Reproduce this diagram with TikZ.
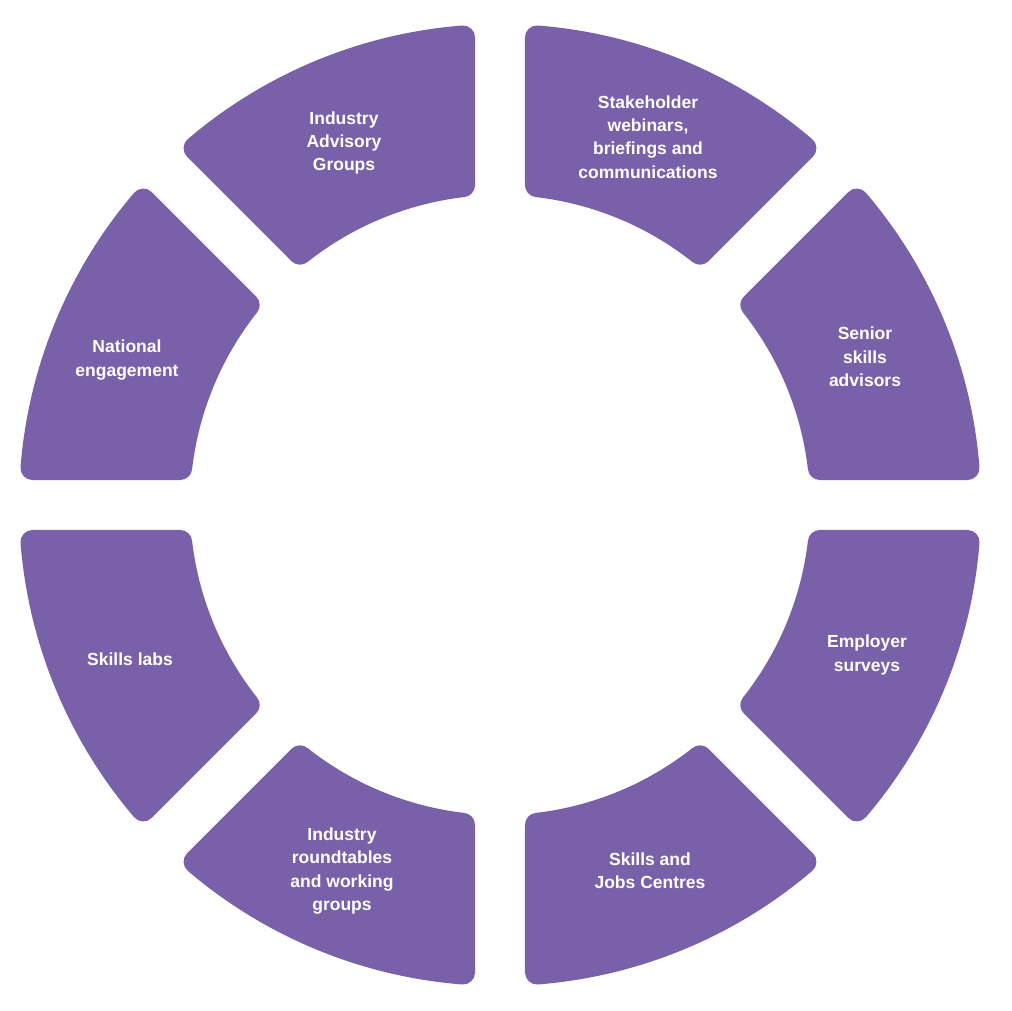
\documentclass[tikz,border=0pt]{standalone}
\usepackage{fontspec}
\setmainfont{Liberation Sans}
\definecolor{seg}{RGB}{120,97,168}
\begin{document}
\begin{tikzpicture}[x=1pt,y=1pt,
  segment/.style={fill=seg,draw=seg,line width=24pt,line join=round},
  lab/.style={text=white,font=\bfseries\fontsize{17.5}{23.3}\selectfont,align=center}]
\useasboundingbox (0,0) rectangle (1012,1010);
\foreach \k in {0,...,7}{
  \begin{scope}[shift={(500,505)},rotate=\k*45]
    \path[segment] (4.524:469pt) arc[start angle=4.524,end angle=40.476,radius=469pt]
      -- (38.402:322pt) arc[start angle=38.402,end angle=6.598,radius=322pt] -- cycle;
  \end{scope}
}
\node[lab] (iag) at (344,867) {Industry\\Advisory\\Groups};
\node[lab] (stk) at (648,873) {Stakeholder\\webinars,\\briefings and\\communications};
\node[lab] (ssa) at (865,653) {Senior\\skills\\advisors};
\node[lab] (nat) at (127,650) {National\\engagement};
\node[lab] (sl) at (130,351) {Skills labs};
\node[lab] (emp) at (867,355) {Employer\\surveys};
\node[lab] (irt) at (342,139) {Industry\\roundtables\\and working\\groups};
\node[lab] (sjc) at (650,139) {Skills and\\Jobs Centres};
\end{tikzpicture}
\end{document}
